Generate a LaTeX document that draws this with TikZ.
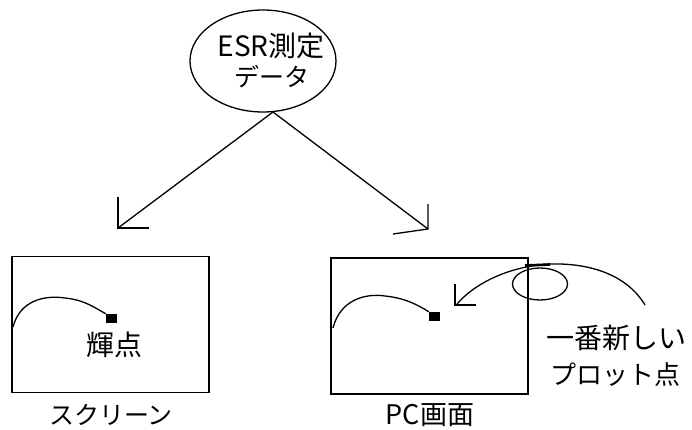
\documentclass[tikz,border=0pt]{standalone}
\usepackage{fontspec}
\usetikzlibrary{shapes.geometric}
\setmainfont{Noto Sans CJK JP}
\newfontfamily\jpfont{Noto Sans CJK JP}
\begin{document}
\begin{tikzpicture}[x=1pt,y=-1pt,
  ln/.style={line width=1.3pt,black},
  boxl/.style={draw,line width=1.6pt,minimum width=197pt,minimum height=136pt,inner sep=0pt},
  lbl/.style={inner sep=0pt,font=\jpfont\fontsize{25}{27}\selectfont},
  dot/.style={fill=black,minimum width=11pt,minimum height=9pt,inner sep=0pt}]
\useasboundingbox (0,0) rectangle (692,430);
% top ellipse
\node[draw,ln,ellipse,minimum width=146pt,minimum height=102pt,inner sep=0pt] (src) at (263,61) {};
\node[lbl,font=\jpfont\fontsize{28}{30}\selectfont] (t1) at (271,46) {ESR測定};
\node[lbl] (t2) at (272,77) {データ};
\coordinate (srcb) at (273,112);
% boxes
\node[boxl] (scr) at (110.5,324.5) {};
\node[boxl] (pc) at (429.5,326) {};
\node[lbl] (scrl) at (111,415) {スクリーン};
\node[lbl,font=\jpfont\fontsize{27}{29}\selectfont] (pcl) at (430,415) {PC画面};
% arrows
\coordinate (la) at (118,228);
\coordinate (ra) at (428,229);
\draw[ln] (srcb) -- (la);
\draw[ln] (srcb) -- (ra);
\draw[ln] (118,197) -- (la) -- (149,228);
\draw[ln] (428,204) -- (ra) -- (393,234);
% curves in boxes
\node[dot] (d1) at (111.5,318.5) {};
\node[dot] (d2) at (434.5,316.5) {};
\draw[ln] (13,327) .. controls (20,300) and (45,295) .. (65,298) .. controls (85,300) and (95,308) .. (d1.north west);
\draw[ln] (333,328) .. controls (340,300) and (365,293) .. (385,296) .. controls (405,298) and (418,305) .. (d2.north west);
\node[lbl,font=\jpfont\fontsize{28}{30}\selectfont] (kt) at (114,345) {輝点};
% newest plot point
\node[draw,ln,ellipse,minimum width=55pt,minimum height=32pt,inner sep=0pt] (np) at (540,284) {};
\node[lbl,font=\jpfont\fontsize{28}{30}\selectfont] (n1) at (616,338) {一番新しい};
\node[lbl,font=\jpfont\fontsize{26}{28}\selectfont] (n2) at (615,375) {プロット点};
\coordinate (ca) at (457,304);
\draw[ln] (645,305) .. controls (625,272) and (585,263) .. (550,264) .. controls (510,266) and (475,283) .. (ca);
\draw[line width=2.6pt] (525,265.5) -- (550,264.5);
\draw[ln] (455,284) -- (455,305) -- (476,305);
\end{tikzpicture}
\end{document}
